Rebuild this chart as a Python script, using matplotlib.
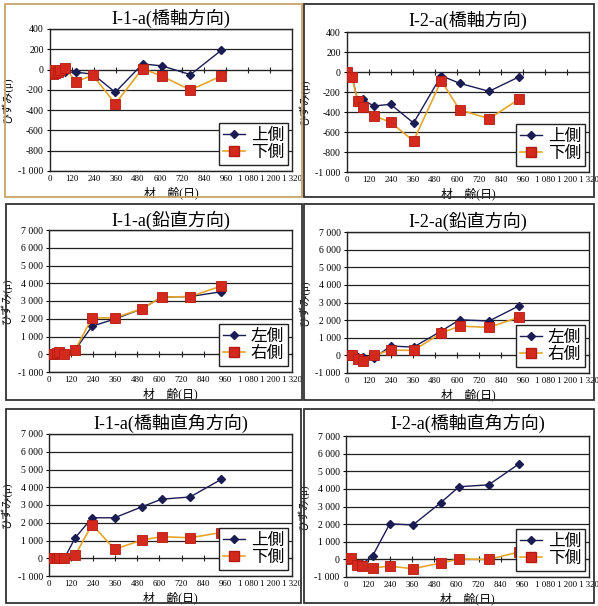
import matplotlib
matplotlib.use("Agg")
import matplotlib.pyplot as plt
from matplotlib.patches import Rectangle
from matplotlib.ticker import FuncFormatter
from matplotlib.lines import Line2D

plt.rcParams['font.family'] = ['Liberation Serif', 'Noto Sans CJK JP']

# material age (days)
days_11 = [0, 14, 28, 42, 56, 84, 142, 234, 356, 505, 612, 766, 935]
days_12 = [0, 27, 58, 85, 145, 238, 363, 514, 614, 775, 940]

# I-1-a
ax11_upper = [0, -40, -20, -10, -20, -25, -26, -45, -224, 56, 36, -50, 191]
ax11_lower = [0, -40, -30, -20, 0, 13, -119, -56, -337, 10, -66, -201, -63]
vt11_left = [0, 0, 0, 50, 30, 0, 250, 1580, 1980, 2560, 3220, 3250, 3520]
vt11_right = [0, 0, 0, 80, 100, 20, 250, 2050, 2050, 2560, 3220, 3250, 3840]
tr11_upper = [0, 0, 0, 0, 0, 0, 1150, 2280, 2280, 2900, 3330, 3450, 4440]
tr11_lower = [0, 0, 0, 0, 0, 0, 170, 1900, 510, 1020, 1220, 1150, 1450]

# I-2-a
ax12_upper = [0, -40, -283, -273, -340, -323, -510, -37, -113, -193, -47]
ax12_lower = [0, -45, -290, -350, -437, -503, -690, -87, -377, -467, -270]
vt12_left = [0, 50, -100, -100, -170, 530, 470, 1380, 2020, 1950, 2820]
vt12_right = [0, 20, -200, -300, 0, 300, 280, 1270, 1660, 1590, 2170]
tr12_upper = [0, 50, -250, -280, 210, 2020, 1950, 3210, 4120, 4230, 5420]
tr12_lower = [0, 50, -300, -380, -490, -380, -530, -210, 20, 0, 420]

x_ticks = list(range(0, 1321, 120))
small_ticks = list(range(-1000, 401, 200))
big_ticks = list(range(-1000, 7001, 1000))

W, H = 598, 606
fig = plt.figure(figsize=(W / 100, H / 100), dpi=100)

# panel frames (pixels: x0, y0, x1, y1), colour
frames = [
    ((5, 4, 302, 197), '#c8a468'),
    ((304, 4, 594, 197), '#333333'),
    ((6, 204, 302, 400), '#333333'),
    ((304, 204, 594, 400), '#333333'),
    ((6, 409, 301, 603), '#333333'),
    ((304, 409, 594, 603), '#333333'),
]
for (x0, y0, x1, y1), c in frames:
    fig.add_artist(Rectangle((x0 / W, 1 - y1 / H), (x1 - x0) / W, (y1 - y0) / H,
                             transform=fig.transFigure, fill=False, ec=c, lw=1.3, zorder=20))

panels = [
    # axes px (left, top, right, bottom), title, days, s1, s2, labels, yticks, title y
    ((50, 29, 292, 171), 'I-1-a(橋軸方向)', days_11, ax11_upper, ax11_lower, ('上側', '下側'), small_ticks, 18),
    ((347, 32, 589, 172), 'I-2-a(橋軸方向)', days_12, ax12_upper, ax12_lower, ('上側', '下側'), small_ticks, 20),
    ((49, 230, 292, 372), 'I-1-a(鉛直方向)', days_11, vt11_left, vt11_right, ('左側', '右側'), big_ticks, 220),
    ((347, 232, 589, 373), 'I-2-a(鉛直方向)', days_12, vt12_left, vt12_right, ('左側', '右側'), big_ticks, 221),
    ((49, 434, 292, 576), 'I-1-a(橋軸直角方向)', days_11, tr11_upper, tr11_lower, ('上側', '下側'), big_ticks, 423),
    ((346, 436, 589, 577), 'I-2-a(橋軸直角方向)', days_12, tr12_upper, tr12_lower, ('上側', '下側'), big_ticks, 423),
]

fmt = FuncFormatter(lambda v, p: f"{v:,.0f}".replace(",", " "))
navy = '#1c1c55'
red = '#d42a1e'
gold = '#e6a52a'

for (l, t, r, b), title, days, s1, s2, labels, yt, ty in panels:
    ax = fig.add_axes([l / W, 1 - b / H, (r - l) / W, (b - t) / H])
    ax.plot(days, s1, color=navy, lw=1.0, marker='D', ms=4.2, mfc=navy, mec=navy, zorder=3)
    ax.plot(days, s2, color=gold, lw=1.2, marker='s', ms=6.5, mfc=red, mec='#b51a12', mew=0.6, zorder=4)
    ax.set_xlim(0, 1320)
    ax.set_ylim(yt[0], yt[-1])
    ax.set_xticks(x_ticks)
    ax.set_yticks(yt)
    ax.xaxis.set_major_formatter(fmt)
    ax.yaxis.set_major_formatter(fmt)
    ax.tick_params(axis='x', length=0, pad=3, labelsize=6.4)
    ax.tick_params(axis='y', length=2.5, pad=2, labelsize=7)
    ax.grid(axis='y', color='#222222', lw=0.9)
    for s in ax.spines.values():
        s.set_color('#222222')
        s.set_linewidth(1.0)
    # zero line carrying the category tick marks
    frac = (0 - yt[0]) / (yt[-1] - yt[0])
    sec = ax.secondary_xaxis(frac)
    sec.set_xticks(x_ticks)
    sec.tick_params(direction='inout', length=4, width=0.8, color='#222222',
                    labelbottom=False, labeltop=False)
    sec.spines['bottom'].set_color('#222222')
    ax.set_ylabel('ひずみ(μ)', fontsize=8)
    ax.yaxis.set_label_coords(-0.155, 0.5)
    ax.set_xlabel('材　齢(日)', fontsize=8.5)
    ax.xaxis.set_label_coords(0.5, -0.11)
    fig.text(((l + r) / 2) / W, 1 - ty / H, title, ha='center', va='center', fontsize=13)
    handles = [Line2D([], [], color=navy, lw=1.0, marker='D', ms=4.2),
               Line2D([], [], color=gold, lw=1.2, marker='s', ms=6.5, mfc=red, mec='#b51a12')]
    leg = ax.legend(handles, labels, loc='lower right', bbox_to_anchor=(0.985, 0.04),
                    fontsize=12, frameon=True, fancybox=False, framealpha=1,
                    edgecolor='#222222', handlelength=1.3, handletextpad=0.35,
                    borderpad=0.25, labelspacing=0.1, borderaxespad=0)
    leg.get_frame().set_linewidth(1.0)
    leg.set_zorder(10)

fig.savefig('out.png', dpi=100)
